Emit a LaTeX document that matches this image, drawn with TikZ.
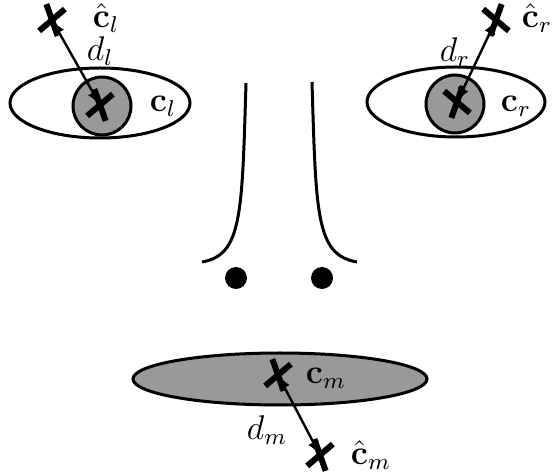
\documentclass[tikz,border=0pt]{standalone}
\usepackage{amsmath}
\usepackage{bm}
\usepackage{xcolor}
\usepackage{tikz}
\usetikzlibrary{shapes.misc, arrows.meta}

\begin{document}
\begin{tikzpicture}[x=0.35pt, y=-0.35pt, every node/.style={font=\large},
% common options for the outlines:
face/.style = {draw, line width=1.05pt},
% common options for the centre marks:
cmark/.style = {cross out, draw, line width=2.1pt, minimum width=4.6pt,
            minimum height=7.6pt, inner sep=0},
% common options for the distance arrows:
dist/.style = {{Latex[length=5pt,width=4pt]}-{Latex[length=5pt,width=4pt]},
            line width=0.85pt}]
\useasboundingbox (0,0) rectangle (552,474);

% left eye
\draw[face] (100,103) ellipse [x radius=90, y radius=35];
\draw[face, fill=black!40] (102,106) circle [radius=29];
\node[cmark, rotate=-15] (L0) at (100,105) {};
\node[cmark, rotate=-15] (L1) at (52,20) {};
\node (A1) at (106,18) {$\hat{\mathbf{c}}_l$};
\node (A2) at (100,51) {$d_l$};
\node (A3) at (163,106) {$\mathbf{c}_l$};

% right eye
\draw[face] (456,102) ellipse [x radius=89, y radius=35];
\draw[face, fill=black!40] (455,104) circle [radius=29];
\node[cmark, rotate=15] (R0) at (457,102) {};
\node[cmark, rotate=15] (R1) at (496,20) {};
\node (B1) at (537,18) {$\hat{\mathbf{c}}_r$};
\node (B2) at (455,52) {$d_r$};
\node (B3) at (516,106) {$\mathbf{c}_r$};

% nose
\draw[face] (246,83) .. controls (242,215) and (242,255) .. (202,262);
\draw[face] (312,82) .. controls (316,215) and (316,255) .. (357,262);
\fill (236,278) circle [radius=11];
\fill (322,278) circle [radius=11];

% mouth
\draw[face, fill=black!40] (280,379) ellipse [x radius=147, y radius=26];
\node[cmark, rotate=-15] (M0) at (278,375) {};
\node[cmark, rotate=-15] (M1) at (320,455) {};
\node (C1) at (326,378) {$\mathbf{c}_m$};
\node (C2) at (267,430) {$d_m$};
\node (C3) at (371,455) {$\hat{\mathbf{c}}_m$};

\draw[dist] (L0.center) -- (L1.center);
\draw[dist] (R0.center) -- (R1.center);
\draw[dist] (M0.center) -- (M1.center);
\end{tikzpicture}
\end{document}
